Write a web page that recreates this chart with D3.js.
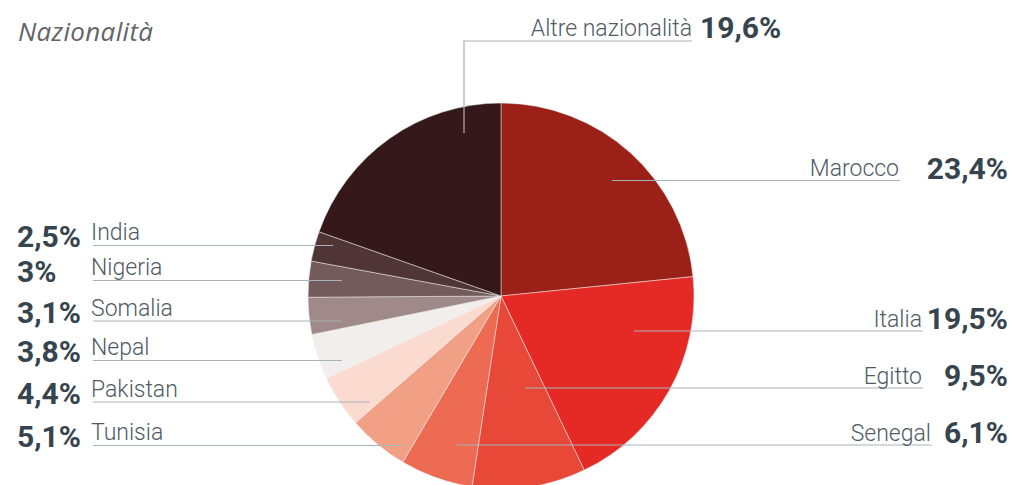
<!DOCTYPE html>
<html>
<head>
<meta charset="utf-8">
<script src="https://cdn.jsdelivr.net/npm/d3@7"></script>
<style>
  body { margin: 0; background: #fff; }
  svg { display: block; }
</style>
</head>
<body>
<div id="chart"></div>
<script>
const width = 1013;
const height = 485;
const radius = 193;
const cx = 501, cy = 296;

// data, clockwise from 12 o'clock
const categories = ["Marocco", "Italia", "Egitto", "Senegal", "Tunisia", "Pakistan",
    "Nepal", "Somalia", "Nigeria", "India", "Altre nazionalità"];
const shares = [23.4, 19.5, 9.5, 6.1, 5.1, 4.4, 3.8, 3.1, 3, 2.5, 19.6];

const palette = ["#9b2118", "#e52a26", "#e84837", "#ee6b53", "#f2a085", "#fbdbd0",
    "#f2eeed", "#9f8a89", "#735b5b", "#503536", "#35191a"];

// label rows: y of the leader line, inner end x of the leader
const leaders = [
    { name: "Marocco", side: "right", y: 180.5, x0: 612, x1: 900 },
    { name: "Italia", side: "right", y: 331, x0: 634, x1: 923 },
    { name: "Egitto", side: "right", y: 388, x0: 525, x1: 923 },
    { name: "Senegal", side: "right", y: 445, x0: 457, x1: 932 },
    { name: "Tunisia", side: "left", y: 445.5, x0: 403, x1: 93 },
    { name: "Pakistan", side: "left", y: 402, x0: 370, x1: 93 },
    { name: "Nepal", side: "left", y: 360.5, x0: 342, x1: 93 },
    { name: "Somalia", side: "left", y: 321, x0: 342, x1: 93 },
    { name: "Nigeria", side: "left", y: 280.5, x0: 342, x1: 93 },
    { name: "India", side: "left", y: 245.5, x0: 333, x1: 93 },
    { name: "Altre nazionalità", side: "top", y: 41, x0: 464, y0: 133, x1: 692 }
];

const fmt = v => String(v).replace(".", ",") + "%";
const labelFont = "Roboto, 'DejaVu Sans', sans-serif";
const lineColor = "#a7b3ba";
const labelColor = "#4f5b63";
const valueColor = "#36444d";
const labelSize = 23;

const svg = d3.select("#chart")
    .append("svg")
    .attr("width", width)
    .attr("height", height);

svg.append("text")
    .attr("x", 18)
    .attr("y", 41)
    .attr("font-family", "'Open Sans', sans-serif")
    .attr("font-style", "italic")
    .attr("font-size", 26)
    .attr("fill", "#646464")
    .attr("textLength", 135)
    .text("Nazionalità");

const pie = d3.pie().sort(null).value(d => d);
const arc = d3.arc().innerRadius(0).outerRadius(radius);
const color = d3.scaleOrdinal().domain(categories).range(palette);

const arcs = pie(shares).map((a, i) => ({ ...a, name: categories[i] }));

svg.append("g")
    .attr("transform", `translate(${cx},${cy})`)
    .selectAll("path")
    .data(arcs)
    .join("path")
    .attr("d", arc)
    .attr("fill", d => color(d.name))
    .attr("stroke", "#eee")
    .attr("stroke-width", 0.5);

const byName = new Map(arcs.map(a => [a.name, a]));

const lab = svg.append("g");

function label(x, y, text, anchor) {
    lab.append("text")
        .attr("x", x)
        .attr("y", y)
        .attr("text-anchor", anchor)
        .attr("font-family", labelFont)
        .attr("font-weight", 300)
        .attr("font-size", labelSize)
        .attr("fill", labelColor)
        .text(text);
}

function value(x, y, text, anchor) {
    lab.append("text")
        .attr("x", x)
        .attr("y", y)
        .attr("text-anchor", anchor)
        .attr("font-family", labelFont)
        .attr("font-weight", 700)
        .attr("font-size", 30)
        .attr("fill", valueColor)
        .text(text);
}

leaders.forEach(l => {
    const d = byName.get(l.name);
    if (l.side === "top") {
        lab.append("path")
            .attr("d", `M${l.x0},${l.y0}V${l.y}H${l.x1}`)
            .attr("fill", "none")
            .attr("stroke", lineColor)
            .attr("stroke-width", 1.2);
        label(l.x1, l.y - 5, l.name, "end");
        value(l.x1 + 8, l.y - 3, fmt(d.data), "start");
        return;
    }
    lab.append("line")
        .attr("x1", l.x0).attr("x2", l.x1)
        .attr("y1", l.y).attr("y2", l.y)
        .attr("stroke", lineColor)
        .attr("stroke-width", 1.2);
    if (l.side === "right") {
        label(l.x1 - 1, l.y - 4.5, l.name, "end");
        value(1008, l.y - 2, fmt(d.data), "end");
    } else {
        label(91, l.y - 5.5, l.name, "start");
        value(17, l.y + 1.5, fmt(d.data), "start");
    }
});
</script>
</body>
</html>
